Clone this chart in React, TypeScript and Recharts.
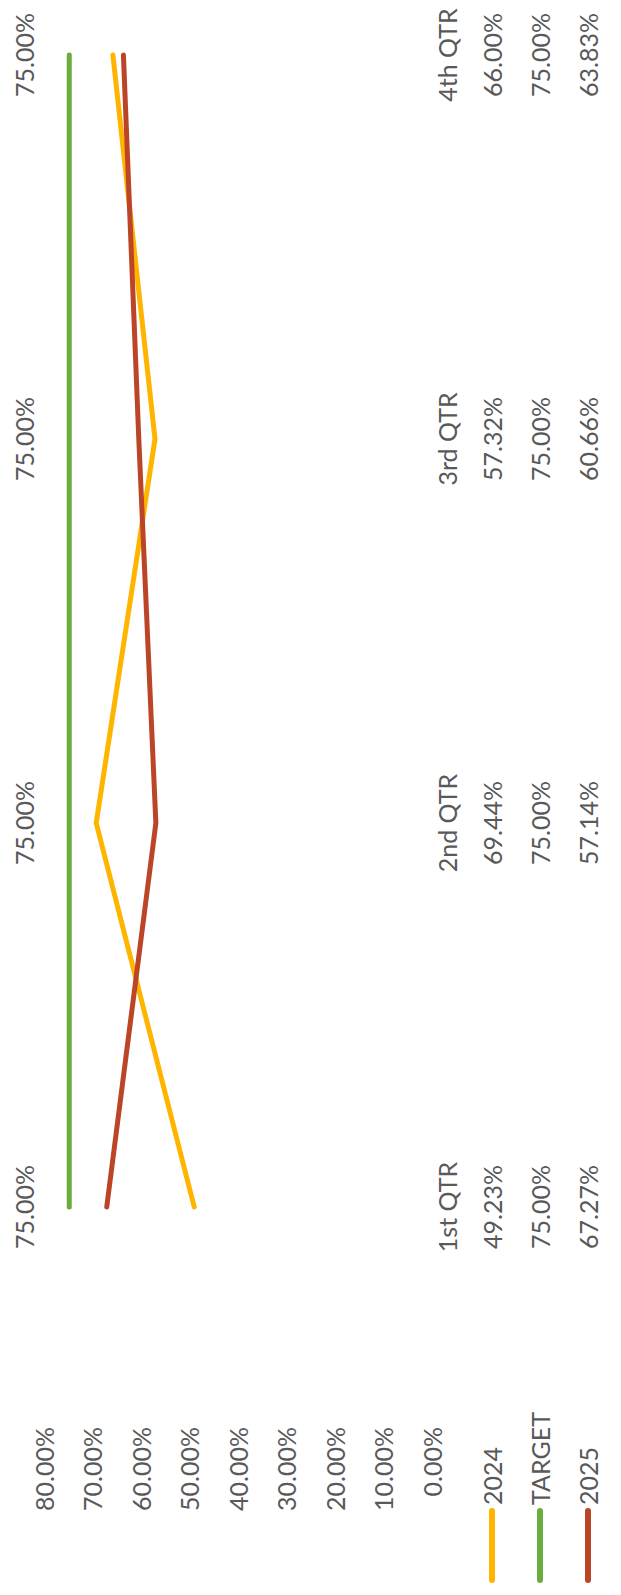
import { LineChart, Line, XAxis, YAxis, LabelList } from 'recharts'

const QUARTERS = ['1st QTR', '2nd QTR', '3rd QTR', '4th QTR']
const SALES_2024 = [49.23, 69.44, 57.32, 66.0]
const TARGET = [75, 75, 75, 75]
const SALES_2025 = [67.27, 57.14, 60.66, 63.83]
const Y_TICKS = [0, 10, 20, 30, 40, 50, 60, 70, 80]

// axis ids sort alphabetically when recharts stacks the bottom axes, hence the prefixes
const SERIES = [
  { key: 'y2024', axis: 'b_2024', name: '2024', color: '#FFB400', values: SALES_2024 },
  { key: 'target', axis: 'c_target', name: 'TARGET', color: '#6AAD3D', values: TARGET },
  { key: 'y2025', axis: 'd_2025', name: '2025', color: '#BC4528', values: SALES_2025 },
]

const data = QUARTERS.map((q, i) => ({
  q,
  y2024: SALES_2024[i],
  target: TARGET[i],
  y2025: SALES_2025[i],
}))

const TEXT = '#595959'
const FONT = 25
const pct = (v: number) => v.toFixed(2) + '%'

// chart is drawn landscape then turned a quarter to the left, like the scan
const W = 1595
const H = 621

function CatTick(props: any) {
  const { x, y, payload } = props
  return (
    <text x={x} y={y + 14} textAnchor="middle" dominantBaseline="central" fill={TEXT} fontSize={FONT}>
      {payload.value}
    </text>
  )
}

function valueTick(values: number[]) {
  return (props: any) => {
    const { x, y, payload } = props
    const i = QUARTERS.indexOf(payload.value)
    return (
      <text x={x} y={y + 22} textAnchor="middle" dominantBaseline="central" fill={TEXT} fontSize={FONT}>
        {pct(values[i])}
      </text>
    )
  }
}

function legendLabel(name: string, color: string) {
  return (props: any) => {
    const vb = props.viewBox || {}
    const cy = (vb.y ?? 0) + 22
    return (
      <g>
        <line x1={15} x2={84} y1={cy} y2={cy} stroke={color} strokeWidth={6} strokeLinecap="round" />
        <text x={90} y={cy} dominantBaseline="central" fill={TEXT} fontSize={FONT}>{name}</text>
      </g>
    )
  }
}

function TargetLabel(props: any) {
  const { x, y, value } = props
  return (
    <text x={x} y={y - 45} textAnchor="middle" dominantBaseline="central" fill={TEXT} fontSize={FONT}>
      {pct(value)}
    </text>
  )
}

export default function App() {
  return (
    <div style={{ position: 'absolute', left: 0, top: 0, width: H, height: W, overflow: 'hidden', background: '#fff' }}>
      <div
        style={{
          position: 'absolute', left: 0, top: 0, width: W, height: H,
          transformOrigin: '0 0', transform: `translateY(${W}px) rotate(-90deg)`,
          fontFamily: 'Lato, "Open Sans", sans-serif',
        }}
      >
        <LineChart width={W} height={H} data={data} margin={{ top: 45, right: 0, bottom: 7, left: 0 }}>
          <YAxis
            type="number" domain={[0, 80]} ticks={Y_TICKS} width={196}
            axisLine={false} tickLine={false} tickSize={0} tickMargin={28}
            tickFormatter={pct} tick={{ fill: TEXT, fontSize: FONT }}
          />
          <XAxis
            xAxisId="a_cat" dataKey="q" padding={{ left: 192, right: 55 }} height={37}
            axisLine={false} tickLine={false} tickSize={0} tickMargin={0} interval={0} tick={CatTick}
          />
          {SERIES.map((s) => (
            <XAxis
              key={s.axis} xAxisId={s.axis} dataKey="q" padding={{ left: 192, right: 55 }} height={48}
              axisLine={false} tickLine={false} tickSize={0} tickMargin={0} interval={0}
              tick={valueTick(s.values)} label={{ content: legendLabel(s.name, s.color) }}
            />
          ))}
          <Line xAxisId="a_cat" dataKey="target" stroke="#6AAD3D" strokeWidth={5} dot={false} strokeLinecap="round" isAnimationActive={false}>
            <LabelList dataKey="target" content={TargetLabel} />
          </Line>
          <Line xAxisId="a_cat" dataKey="y2024" stroke="#FFB400" strokeWidth={5} dot={false} strokeLinecap="round" strokeLinejoin="round" isAnimationActive={false} />
          <Line xAxisId="a_cat" dataKey="y2025" stroke="#BC4528" strokeWidth={5} dot={false} strokeLinecap="round" strokeLinejoin="round" isAnimationActive={false} />
        </LineChart>
      </div>
    </div>
  )
}
